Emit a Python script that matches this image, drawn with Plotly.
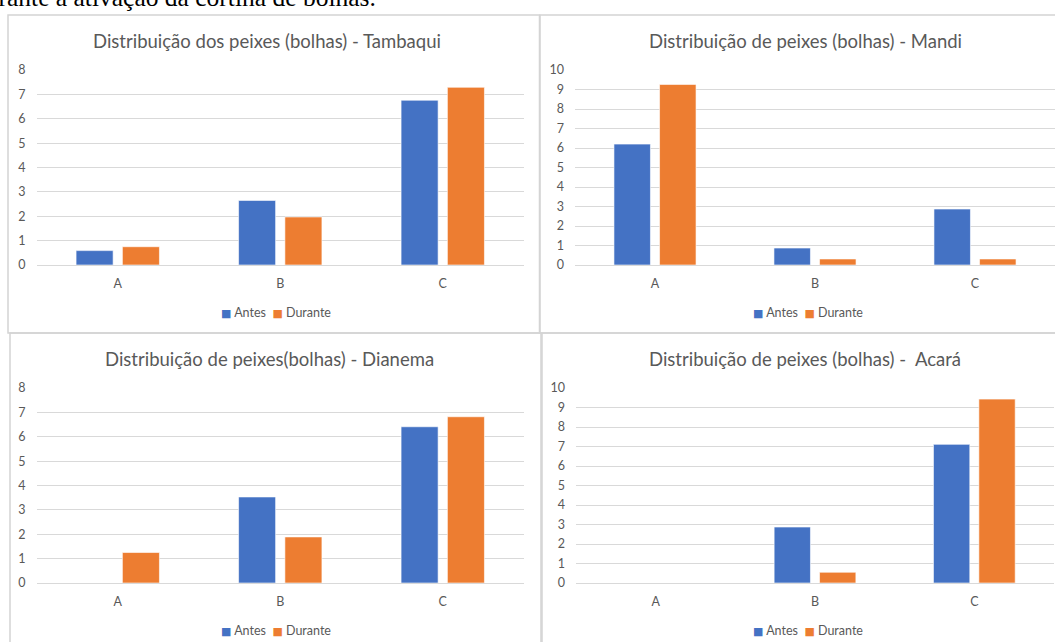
import plotly.graph_objects as go

W, H = 1055, 642

categories = ["A", "B", "C"]
series_names = ["Antes", "Durante"]

tambaqui_antes = [0.59, 2.65, 6.76]
tambaqui_durante = [0.75, 1.97, 7.29]
mandi_antes = [6.2, 0.87, 2.87]
mandi_durante = [9.26, 0.31, 0.31]
dianema_antes = [0, 3.53, 6.41]
dianema_durante = [1.25, 1.89, 6.82]
acara_antes = [0, 2.87, 7.11]
acara_durante = [0, 0.55, 9.43]

titles = [
    "Distribuição dos peixes (bolhas) - Tambaqui",
    "Distribuição de peixes (bolhas) - Mandi",
    "Distribuição de peixes(bolhas) - Dianema",
    "Distribuição de peixes (bolhas) -  Acará",
]
y_max = [8, 10, 8, 10]

BLUE = "#4472C4"
ORANGE = "#ED7D31"
GRAY_TXT = "#595959"
GRID = "#D9D9D9"
FONT = "Lato"
series_colors = [BLUE, ORANGE]


def X(px):
    return px / W


def Y(py):
    return 1 - py / H


# plot-area pixel boxes: (left, right, top, bottom)
plot_boxes = [
    (36.5, 524, 70, 265),
    (575, 1055, 70, 265),
    (36.5, 524, 388, 583),
    (576, 1054, 388, 583),
]
title_pos = [(267, 41), (805, 41), (269, 359), (805, 359)]
legend_pos = [(276, 312), (808, 312), (276, 630), (808, 630)]

data = [
    (tambaqui_antes, tambaqui_durante),
    (mandi_antes, mandi_durante),
    (dianema_antes, dianema_durante),
    (acara_antes, acara_durante),
]

fig = go.Figure()
layout = dict(
    width=W,
    height=H,
    margin=dict(l=0, r=0, t=0, b=0, autoexpand=False),
    paper_bgcolor="white",
    plot_bgcolor="white",
    barmode="group",
    bargap=0.43,
    bargroupgap=0.2,
    showlegend=False,
    font=dict(family=FONT, color=GRAY_TXT, size=12),
)

annotations = []
shapes = []

for i, ((antes, durante), box) in enumerate(zip(data, plot_boxes)):
    n = i + 1
    xa = "x" if n == 1 else f"x{n}"
    ya = "y" if n == 1 else f"y{n}"
    for name, vals, col in zip(series_names, (antes, durante), series_colors):
        fig.add_trace(go.Bar(
            x=categories, y=vals, name=name, xaxis=xa, yaxis=ya,
            marker=dict(color=col, line=dict(color="white", width=0.6)),
        ))
    l, r, t, b = box
    layout["xaxis" if n == 1 else f"xaxis{n}"] = dict(
        domain=[X(l), X(r)], anchor=ya, showgrid=False, zeroline=False,
        showline=True, linecolor=GRID, linewidth=1, ticks="",
        tickfont=dict(size=12.5, color=GRAY_TXT, family=FONT),
        ticklabelstandoff=7, fixedrange=True, automargin=False,
    )
    layout["yaxis" if n == 1 else f"yaxis{n}"] = dict(
        domain=[Y(b), Y(t)], anchor=xa, range=[0, y_max[i]], dtick=1,
        showgrid=True, gridcolor=GRID, gridwidth=1, zeroline=False,
        showline=False, ticks="",
        tickfont=dict(size=12.5, color=GRAY_TXT, family=FONT),
        ticklabelstandoff=10, fixedrange=True, automargin=False,
    )
    # legend (colored squares + series names)
    lx, ly = legend_pos[i]
    parts = [
        f"<span style='color:{c};font-family:DejaVu Sans;font-size:11px'>■</span> {s}"
        for s, c in zip(series_names, series_colors)
    ]
    annotations.append(dict(
        text="  ".join(parts), x=X(lx), y=Y(ly), xref="paper", yref="paper",
        xanchor="center", yanchor="middle", showarrow=False,
        font=dict(size=12.5, color=GRAY_TXT, family=FONT),
    ))
    tx, ty = title_pos[i]
    annotations.append(dict(
        text=titles[i], x=X(tx), y=Y(ty), xref="paper", yref="paper",
        xanchor="center", yanchor="middle", showarrow=False,
        font=dict(size=18.5, color=GRAY_TXT, family=FONT),
    ))

# panel borders
for (x0, y0, x1, y1) in [(8, 15, 539.5, 333), (540, 15, 1080, 333),
                         (10, 333, 541, 680), (542, 333, 1080, 680)]:
    shapes.append(dict(
        type="rect", xref="paper", yref="paper",
        x0=X(x0), x1=X(x1), y0=Y(y1), y1=Y(y0),
        line=dict(color="#D4D4D4", width=1.5), fillcolor="rgba(0,0,0,0)",
        layer="below",
    ))

# cropped document text above the charts
annotations.append(dict(
    text="durante a ativação da cortina de bolhas.",
    x=X(378), y=Y(14.5), xref="paper", yref="paper",
    xanchor="right", yanchor="bottom", showarrow=False,
    font=dict(size=25.5, color="black", family="Liberation Serif"),
))

layout["annotations"] = annotations
layout["shapes"] = shapes
fig.update_layout(**layout)

fig.write_html("out.html")
